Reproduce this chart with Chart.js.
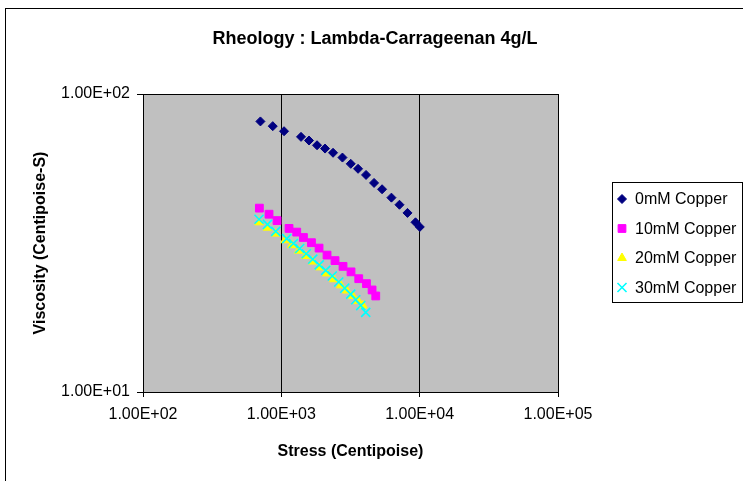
<!DOCTYPE html>
<html>
<head>
<meta charset="utf-8">
<script src="https://cdn.jsdelivr.net/npm/chart.js@4.4.0/dist/chart.umd.min.js"></script>
<style>
  body { margin: 0; background: #fff; }
  canvas { display: block; }
</style>
</head>
<body>
<canvas id="rheo-chart" width="743" height="481"></canvas>
<script>
// stress (centipoise) / viscosity (centipoise-s)
const stress0 = [706, 867, 1046, 1388, 1585, 1812, 2070, 2365, 2766, 3175, 3587, 4096, 4680, 5350, 6250, 7145, 8165, 9330, 10020];
const visc0 = [80.9, 78.0, 75.0, 71.8, 69.8, 67.3, 65.6, 63.5, 61.2, 58.3, 56.1, 53.5, 50.3, 47.9, 44.9, 42.5, 39.9, 37.1, 35.8];

const stress10 = [694, 815, 931, 1137, 1292, 1445, 1651, 1874, 2140, 2445, 2793, 3190, 3628, 4125, 4530, 4815];
const visc10 = [41.4, 39.5, 37.6, 35.4, 34.4, 33.0, 31.7, 30.4, 28.8, 27.6, 26.4, 25.3, 24.0, 23.1, 22.0, 21.0];

const stress20 = [690, 794, 911, 1063, 1189, 1336, 1501, 1687, 1896, 2130, 2393, 2688, 2971, 3283, 3597, 3879];
const visc20 = [37.1, 35.6, 34.0, 32.3, 31.1, 29.8, 28.6, 27.4, 26.2, 25.0, 23.9, 22.8, 21.9, 21.0, 20.2, 19.5];

const stress30 = [690, 794, 911, 1094, 1223, 1358, 1514, 1687, 1879, 2094, 2334, 2600, 2873, 3175, 3451, 3750, 4075];
const visc30 = [38.0, 36.5, 34.6, 32.7, 31.5, 30.3, 29.1, 27.9, 26.7, 25.6, 24.5, 23.4, 22.3, 21.3, 20.4, 19.5, 18.5];

const seriesNames = ['0mM Copper', '10mM Copper', '20mM Copper', '30mM Copper'];
const xTicks = [100, 1000, 10000, 100000];
const yTicks = [10, 100];

const FONT = "'Liberation Sans', Arial, sans-serif";

// 1.00E+02 style labels
function sci(v) {
    const parts = v.toExponential(2).split('e');
    const n = parseInt(parts[1], 10);
    return parts[0] + 'E' + (n < 0 ? '-' : '+') + String(Math.abs(n)).padStart(2, '0');
}

function toPoints(xs, ys) {
    return xs.map((x, i) => ({ x: x, y: ys[i] }));
}

const styles = [
    { color: '#000080', pointStyle: 'rectRot', radius: 4.5, width: 1 },
    { color: '#ff00ff', pointStyle: 'rect', radius: 5.5, width: 1 },
    { color: '#ffff00', pointStyle: 'triangle', radius: 5, width: 1 },
    { color: '#00ffff', pointStyle: 'crossRot', radius: 6.4, width: 1.6 }
];

const allData = [[stress0, visc0], [stress10, visc10], [stress20, visc20], [stress30, visc30]];

const datasets = allData.map((d, i) => ({
    label: seriesNames[i],
    data: toPoints(d[0], d[1]),
    pointStyle: styles[i].pointStyle,
    pointRadius: styles[i].radius,
    pointBorderWidth: styles[i].width,
    backgroundColor: styles[i].color,
    borderColor: styles[i].color,
    showLine: false,
    order: 3 - i  // later series on top, like Excel
}));

// background, plot area fill, outer frame, title and legend
const framePlugin = {
    id: 'frame',
    beforeDraw(chart) {
        const { ctx, chartArea: a } = chart;
        ctx.save();
        ctx.fillStyle = '#fff';
        ctx.fillRect(0, 0, chart.width, chart.height);
        ctx.fillStyle = '#c0c0c0';
        ctx.fillRect(a.left, a.top, a.right - a.left, a.bottom - a.top);
        ctx.strokeStyle = '#000';
        ctx.lineWidth = 1;
        ctx.strokeRect(5.5, 8.5, 800, 600);
        ctx.restore();
    },
    afterDraw(chart) {
        const ctx = chart.ctx;
        ctx.save();
        ctx.fillStyle = '#000';
        ctx.textAlign = 'center';
        ctx.textBaseline = 'middle';
        ctx.font = 'bold 18px ' + FONT;
        ctx.fillText('Rheology : Lambda-Carrageenan 4g/L', 375, 39);

        // legend
        ctx.fillStyle = '#fff';
        ctx.fillRect(612, 182, 131, 121);
        ctx.strokeStyle = '#000';
        ctx.lineWidth = 1;
        ctx.strokeRect(612.5, 182.5, 130, 120);
        ctx.font = '16px ' + FONT;
        ctx.textAlign = 'left';
        chart.data.datasets.forEach((ds, i) => {
            const cy = 199 + i * 29.5;
            ctx.fillStyle = ds.backgroundColor;
            ctx.strokeStyle = ds.borderColor;
            ctx.lineWidth = ds.pointBorderWidth;
            Chart.helpers.drawPoint(ctx, {
                pointStyle: ds.pointStyle,
                radius: ds.pointRadius,
                borderWidth: ds.pointBorderWidth,
                rotation: 0
            }, 622, cy);
            ctx.fillStyle = '#000';
            ctx.fillText(ds.label, 635, cy + 1);
        });
        ctx.restore();
    }
};

const ctx = document.getElementById('rheo-chart').getContext('2d');
const myChart = new Chart(ctx, {
    type: 'scatter',
    data: { datasets: datasets },
    options: {
        responsive: false,
        animation: false,
        layout: { padding: { top: 94, right: 185, left: 0, bottom: 0 } },
        plugins: {
            legend: { display: false },
            title: { display: false },
            tooltip: { enabled: false }
        },
        scales: {
            x: {
                type: 'logarithmic',
                min: 100,
                max: 100000,
                afterBuildTicks: s => { s.ticks = xTicks.map(v => ({ value: v })); },
                afterFit: s => { s.height = 89; },
                grid: { color: '#000', lineWidth: 1, tickLength: 5, drawTicks: true },
                border: { display: true, color: '#000', width: 1 },
                ticks: {
                    autoSkip: false,
                    maxRotation: 0,
                    padding: 8,
                    color: '#000',
                    font: { family: FONT, size: 16 },
                    callback: v => sci(v)
                },
                title: {
                    display: true,
                    text: 'Stress (Centipoise)',
                    color: '#000',
                    font: { family: FONT, size: 16, weight: 'bold' },
                    padding: { top: 0, bottom: 20 }
                }
            },
            y: {
                type: 'logarithmic',
                min: 10,
                max: 100,
                afterBuildTicks: s => { s.ticks = yTicks.map(v => ({ value: v })); },
                afterFit: s => { s.width = 143; },
                grid: { color: '#000', lineWidth: 1, tickLength: 6, drawTicks: true },
                border: { display: true, color: '#000', width: 1 },
                ticks: {
                    autoSkip: false,
                    padding: 7,
                    color: '#000',
                    font: { family: FONT, size: 16 },
                    callback: v => sci(v)
                },
                title: {
                    display: true,
                    text: 'Viscosity (Centipoise-S)',
                    color: '#000',
                    font: { family: FONT, size: 16, weight: 'bold' },
                    padding: { top: 31, bottom: 0 }
                }
            }
        }
    },
    plugins: [framePlugin]
});
</script>
</body>
</html>
